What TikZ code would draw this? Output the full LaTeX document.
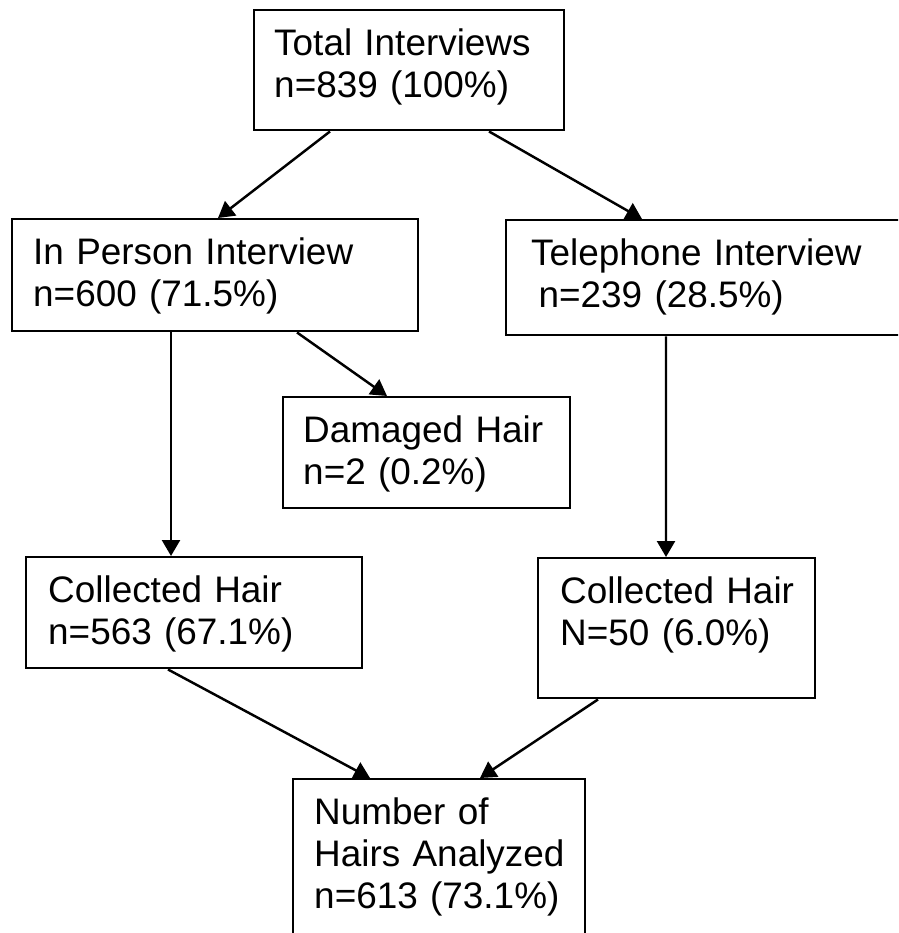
\documentclass[tikz,border=0pt]{standalone}
\usepackage{fontspec}
\setmainfont{Liberation Sans}
\usetikzlibrary{arrows.meta}
\hyphenpenalty=10000
\tikzset{>={Triangle[length=0.32cm,width=0.36cm]}, font=\fontsize{21}{24}\selectfont}
\tikzstyle{box} = [draw, rectangle, anchor=north west, align=left, inner ysep=0pt, text height=0.9cm]
\begin{document}
\begin{tikzpicture}[line width=1.4pt]
    \clip (0,0) rectangle (17.96,-18.66);
    \node [box, inner xsep=0.4cm, text width=5.4cm, text depth=1.5cm] (total) at (5.06,-0.18) {Total~Interviews\\n=839~(100\%)};
    \node [box, inner xsep=0.42cm, text width=7.28cm, text depth=1.34cm] (person) at (0.22,-4.36) {In~Person~Interview\\n=600~(71.5\%)};
    \node [box, inner xsep=0.5cm, text width=7.5cm, text depth=1.4cm] (phone) at (10.1,-4.38) {Telephone~Interview\\\hspace*{0.2em}n=239~(28.5\%)};
    \node [box, inner xsep=0.4cm, text width=4.94cm, text depth=1.32cm] (damaged) at (5.64,-7.92) {Damaged~Hair\\n=2~(0.2\%)};
    \node [box, inner xsep=0.44cm, text width=5.84cm, text depth=1.32cm] (hair_p) at (0.5,-11.12) {Collected~Hair\\n=563~(67.1\%)};
    \node [box, inner xsep=0.44cm, text width=4.66cm, text depth=1.9cm] (hair_t) at (10.74,-11.14) {Collected~Hair\\N=50~(6.0\%)};
    \node [box, inner xsep=0.42cm, text width=5.0cm, text depth=2.74cm] (analyzed) at (5.84,-15.56) {Number~of\\Hairs~Analyzed\\n=613~(73.1\%)};

    \draw [->] ([xshift=1.54cm]total.south west) -- ([xshift=4.14cm]person.north west);
    \draw [->] ([xshift=4.72cm]total.south west) -- ([xshift=2.74cm]phone.north west);
    \draw [->] ([xshift=3.2cm]person.south west) -- ([xshift=2.92cm]hair_p.north west);
    \draw [->] ([xshift=5.72cm]person.south west) -- ([xshift=2.1cm]damaged.north west);
    \draw [->] ([xshift=3.22cm]phone.south west) -- ([xshift=2.58cm]hair_t.north west);
    \draw [->] ([xshift=2.86cm]hair_p.south west) -- ([xshift=1.56cm]analyzed.north west);
    \draw [->] ([xshift=1.22cm]hair_t.south west) -- ([xshift=3.76cm]analyzed.north west);
\end{tikzpicture}
\end{document}
